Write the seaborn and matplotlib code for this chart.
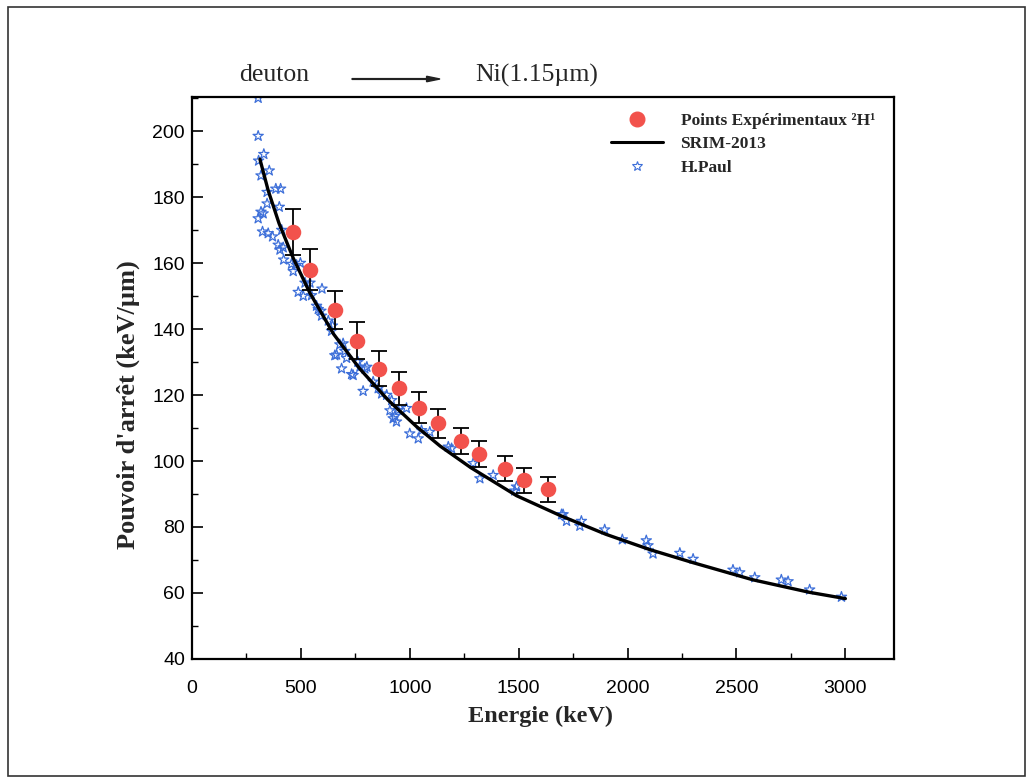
import matplotlib
matplotlib.use("Agg")
import matplotlib.pyplot as plt
from matplotlib.lines import Line2D
from matplotlib.patches import Rectangle
from matplotlib.ticker import MultipleLocator
import seaborn as sns
import numpy as np
import pandas as pd

# ---------------- data ----------------
exp_energy = [465, 541, 656, 759, 860, 949, 1043, 1128, 1233, 1319, 1436, 1525, 1635]
exp_stopping = [169.3, 158.0, 145.7, 136.5, 128.0, 122.1, 116.2, 111.5, 106.1, 102.1, 97.7, 94.2, 91.4]
exp_error = [7.0, 6.2, 5.8, 5.5, 5.2, 5.0, 4.6, 4.4, 4.0, 4.0, 3.9, 3.8, 3.9]

srim_energy = [312, 350, 400, 465, 541, 650, 770, 900, 1030, 1140, 1280, 1490, 1690,
               1900, 2100, 2300, 2575, 2835, 3000]
srim_stopping = [191.5, 182.0, 172.0, 161.5, 151.0, 138.5, 128.0, 118.5, 110.5, 104.5,
                 98.0, 89.5, 83.5, 77.8, 73.2, 69.2, 64.0, 60.2, 58.3]

paul_energy = [304, 304, 330, 306, 355, 317, 385, 407, 345, 304, 317, 327, 345, 401,
               324, 350, 370, 412, 396, 419, 404, 421, 465, 480, 498, 457, 519, 542,
               488, 511, 549, 597, 572, 580, 592, 595, 626, 645, 641, 656, 679, 664,
               694, 702, 710, 687, 733, 740, 771, 762, 794, 803, 786, 832, 855, 871,
               894, 917, 909, 932, 947, 985, 924, 939, 1000, 1039, 1054, 1092, 1177,
               1192, 1291, 1322, 1383, 1490, 1482, 1704, 1697, 1720, 1788, 1781, 1895,
               1976, 2086, 2094, 2117, 2240, 2301, 2484, 2515, 2584, 2706, 2737, 2836,
               2982]
paul_stopping = [210.0, 198.5, 193.0, 191.0, 188.0, 186.5, 182.5, 182.5, 181.5, 173.5,
                 175.5, 175.0, 178.0, 177.0, 169.5, 169.0, 168.0, 170.0, 165.5, 164.7,
                 164.0, 161.0, 157.5, 159.4, 160.0, 159.7, 154.0, 154.0, 151.2, 150.0,
                 150.2, 152.2, 147.0, 146.0, 145.5, 144.0, 142.5, 141.0, 139.4, 132.0,
                 135.3, 132.2, 135.6, 133.3, 131.2, 128.0, 126.3, 126.0, 128.5, 130.0,
                 128.0, 128.5, 121.2, 124.0, 122.0, 120.4, 120.0, 118.4, 115.3, 113.6,
                 115.4, 116.0, 112.9, 111.9, 108.3, 106.8, 109.3, 108.8, 104.3, 103.8,
                 99.3, 94.7, 95.7, 92.2, 91.0, 83.8, 83.8, 81.8, 81.8, 80.3, 79.2, 76.2,
                 75.9, 74.4, 71.9, 72.1, 70.3, 67.0, 66.2, 64.7, 64.0, 63.5, 61.0, 58.8]

legend_labels = ["Points Expérimentaux ²H¹", "SRIM-2013", "H.Paul"]

# ---------------- style ----------------
sns.set_theme(style="white")
plt.rcParams["font.family"] = ["Liberation Sans", "DejaVu Sans"]

RED = "#f2524c"
BLUE = "#3d6fd9"

fig = plt.figure(figsize=(10.32, 7.83), dpi=100)
ax = fig.add_axes([0.186, 0.1584, 0.680, 0.7176])

df_srim = pd.DataFrame({"E": srim_energy, "S": srim_stopping})
df_paul = pd.DataFrame({"E": paul_energy, "S": paul_stopping})
df_exp = pd.DataFrame({"E": exp_energy, "S": exp_stopping, "err": exp_error})

sns.scatterplot(data=df_paul, x="E", y="S", ax=ax, marker="*", s=60,
                facecolors="none", edgecolor=BLUE, linewidth=0.9, zorder=2)
sns.lineplot(data=df_srim, x="E", y="S", ax=ax, color="black", linewidth=2.4,
             zorder=3, sort=True)
ax.errorbar(df_exp["E"], df_exp["S"], yerr=df_exp["err"], fmt="none",
            ecolor="black", elinewidth=1.3, capsize=6, capthick=1.3, zorder=4)
sns.scatterplot(data=df_exp, x="E", y="S", ax=ax, marker="o", s=125,
                color=RED, edgecolor=RED, linewidth=0, zorder=5)

ax.set_xlim(0, 3222)
ax.set_ylim(40, 210.3)
ax.xaxis.set_major_locator(MultipleLocator(500))
ax.xaxis.set_minor_locator(MultipleLocator(250))
ax.yaxis.set_major_locator(MultipleLocator(20))
ax.yaxis.set_minor_locator(MultipleLocator(10))
ax.tick_params(axis="both", which="both", direction="in", top=False, right=False,
               bottom=True, left=True, colors="black", labelsize=14)
ax.tick_params(which="major", length=8, width=1.2)
ax.tick_params(which="minor", length=4, width=1.0)
ax.tick_params(axis="x", pad=15)
ax.tick_params(axis="y", pad=5)
for sp in ax.spines.values():
    sp.set_color("black")
    sp.set_linewidth(1.6)

ax.set_xlabel("Energie (keV)", family="Liberation Serif", fontweight="bold",
              fontsize=17.5)
ax.set_ylabel("Pouvoir d'arrêt (keV/µm)", family="Liberation Serif",
              fontweight="bold", fontsize=19)
ax.xaxis.set_label_coords(0.497, -0.084)
ax.yaxis.set_label_coords(-0.074, 0.452)

handles = [
    Line2D([], [], linestyle="none", marker="o", markersize=10.5, color=RED),
    Line2D([], [], color="black", linewidth=2.2),
    Line2D([], [], linestyle="none", marker="*", markersize=7,
           markerfacecolor="none", markeredgecolor=BLUE, markeredgewidth=0.8),
]
ax.legend(handles, legend_labels, loc="upper left", bbox_to_anchor=(0.575, 1.0),
          frameon=False, handlelength=3.0, handletextpad=1.0, labelspacing=0.42,
          prop={"family": "Liberation Serif", "weight": "bold", "size": 12.5})

# heading above the plot
fig.text(274 / 1032, 1 - 75 / 783, "deuton", family="Liberation Serif",
         fontsize=18.5, ha="center", va="center")
fig.text(537 / 1032, 1 - 75 / 783, "Ni(1.15µm)", family="Liberation Serif",
         fontsize=18.5, ha="center", va="center")
fig.patches.append(matplotlib.patches.FancyArrow(
    352 / 1032, 1 - 79 / 783, 88 / 1032, 0, width=0.0010, head_width=0.007,
    head_length=0.013, length_includes_head=True, color="#222222",
    transform=fig.transFigure, figure=fig))

# page frame
fig.patches.append(Rectangle((8 / 1032, 7 / 783), 1017 / 1032, 769 / 783,
                             fill=False, edgecolor="#333333", linewidth=1.2,
                             transform=fig.transFigure, figure=fig))

fig.savefig("out.png", dpi=100)
